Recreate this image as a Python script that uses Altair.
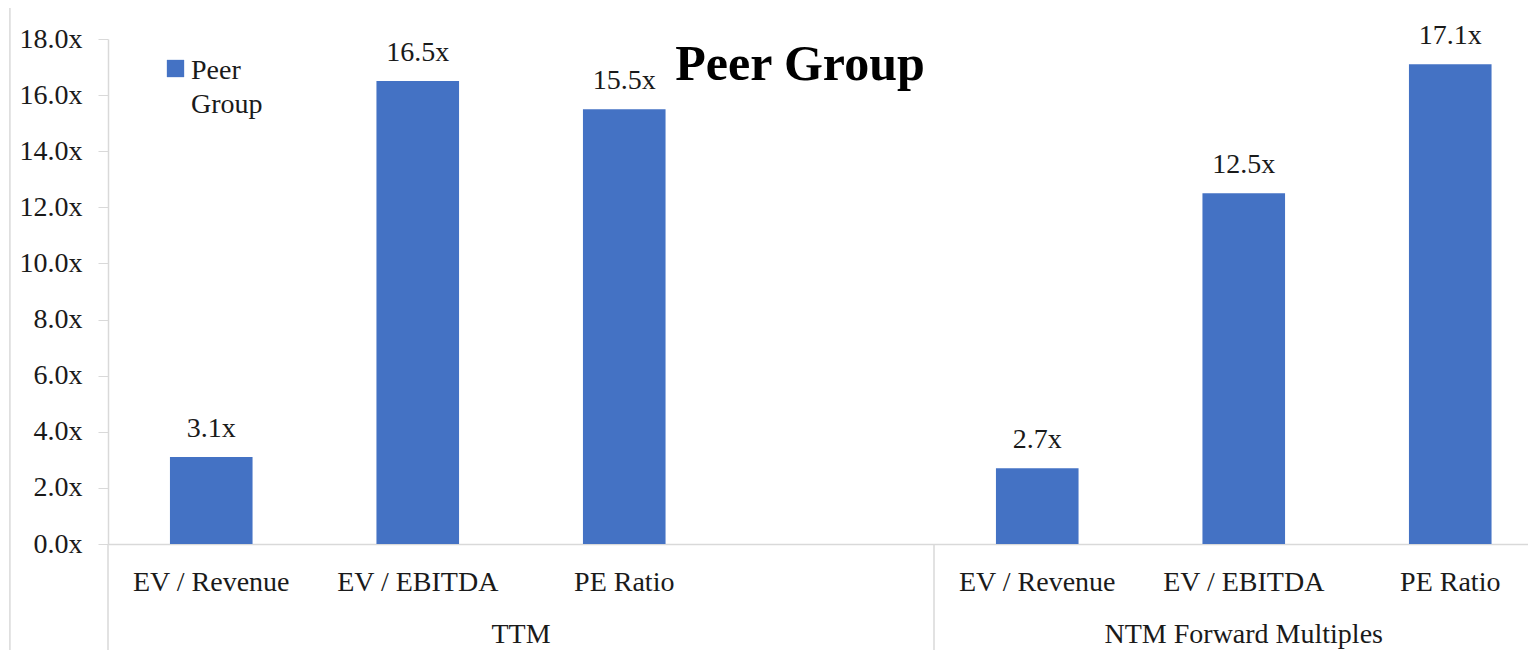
import altair as alt
import pandas as pd

categories = ["EV / Revenue", "EV / EBITDA", "PE Ratio", "EV / Revenue", "EV / EBITDA", "PE Ratio"]
groups = ["TTM", "TTM", "TTM", "NTM Forward Multiples", "NTM Forward Multiples", "NTM Forward Multiples"]
values = [3.1, 16.5, 15.5, 2.7, 12.5, 17.1]
slots = [0, 1, 2, 4, 5, 6]

group_names = ["TTM", "NTM Forward Multiples"]
group_centers = [2.0, 5.5]
separators = [0, 4, 7]

y_ticks = [0, 2, 4, 6, 8, 10, 12, 14, 16, 18]

FONT = "Liberation Serif"
BLUE = "#4472C4"
GRID = "#d9d9d9"
TXT = "#1a1a1a"
FS = 28

bars = pd.DataFrame({"category": categories, "group": groups, "value": values, "slot": slots})
bars["x0"] = bars["slot"] + 0.3
bars["x1"] = bars["slot"] + 0.7
bars["xc"] = bars["slot"] + 0.5
bars["zero"] = 0.0
bars["label"] = [f"{v:.1f}x" for v in values]

grp = pd.DataFrame({"group": group_names, "xc": group_centers, "y": [0, 0]})
sep = pd.DataFrame({"x": separators, "y": [0] * len(separators), "y2": [-4.3] * len(separators)})
border = pd.DataFrame({"x": [-0.475], "y": [19.15], "y2": [-4.3]})

XMAX = 1420 / 206.5
xs = alt.Scale(domain=[0, XMAX], nice=False, zero=False)
ys = alt.Scale(domain=[0, 18], nice=False)

base = alt.Chart(bars)

bar_layer = base.mark_bar(color=BLUE).encode(
    x=alt.X("x0:Q", scale=xs,
            axis=alt.Axis(labels=False, ticks=False, grid=False, title=None,
                          domainColor=GRID, domainWidth=1.5)),
    x2="x1:Q",
    y=alt.Y("value:Q", scale=ys,
            axis=alt.Axis(values=y_ticks, grid=False, title=None,
                          labelExpr="format(datum.value, '.1f') + 'x'",
                          labelFont=FONT, labelFontSize=FS, labelColor=TXT,
                          labelPadding=16, tickSize=10, tickColor=GRID,
                          domainColor=GRID, domainWidth=1.5)),
    y2="zero:Q",
)

value_labels = base.mark_text(font=FONT, fontSize=FS, color=TXT,
                              baseline="alphabetic", dy=-20).encode(
    x=alt.X("xc:Q", scale=xs), y=alt.Y("value:Q", scale=ys), text="label:N")

cat_labels = base.mark_text(font=FONT, fontSize=FS, color=TXT,
                            baseline="middle", dy=39).encode(
    x=alt.X("xc:Q", scale=xs), y=alt.Y("zero:Q", scale=ys), text="category:N")

grp_labels = alt.Chart(grp).mark_text(font=FONT, fontSize=FS, color=TXT,
                                      baseline="middle", dy=91).encode(
    x=alt.X("xc:Q", scale=xs), y=alt.Y("y:Q", scale=ys), text="group:N")

sep_rules = alt.Chart(sep).mark_rule(color=GRID, strokeWidth=1.5).encode(
    x=alt.X("x:Q", scale=xs), y=alt.Y("y:Q", scale=ys), y2="y2:Q")

border_rule = alt.Chart(border).mark_rule(color=GRID, strokeWidth=1.5).encode(
    x=alt.X("x:Q", scale=xs), y=alt.Y("y:Q", scale=ys), y2="y2:Q")

legend_df = pd.DataFrame({"series": ["Peer Group"]})
legend_sq = alt.Chart(legend_df).mark_square(size=300, color=BLUE, opacity=1).encode(
    x=alt.value(67.5), y=alt.value(29.5))
legend_txt = alt.Chart(legend_df).mark_text(font=FONT, fontSize=FS, color=TXT,
                                            align="left", baseline="alphabetic",
                                            lineBreak=" ", lineHeight=34).encode(
    x=alt.value(83), y=alt.value(40), text="series:N")

title_df = pd.DataFrame({"t": ["Peer Group"]})
title_txt = alt.Chart(title_df).mark_text(font=FONT, fontSize=50, fontWeight="bold",
                                          color="#000000", align="center",
                                          baseline="alphabetic").encode(
    x=alt.value(692), y=alt.value(41), text="t:N")

chart = alt.layer(
    border_rule, sep_rules, bar_layer, value_labels, cat_labels, grp_labels,
    legend_sq, legend_txt, title_txt
).properties(
    width=1420, height=505,
    autosize=alt.AutoSizeParams(type="none"),
    padding={"left": 100, "top": 31, "right": 0, "bottom": 106},
    background="white",
).configure(font=FONT).configure_axis(labelFont=FONT).configure_view(stroke=None)

chart.save("out.html", embed_options={"renderer": "svg", "actions": False})
